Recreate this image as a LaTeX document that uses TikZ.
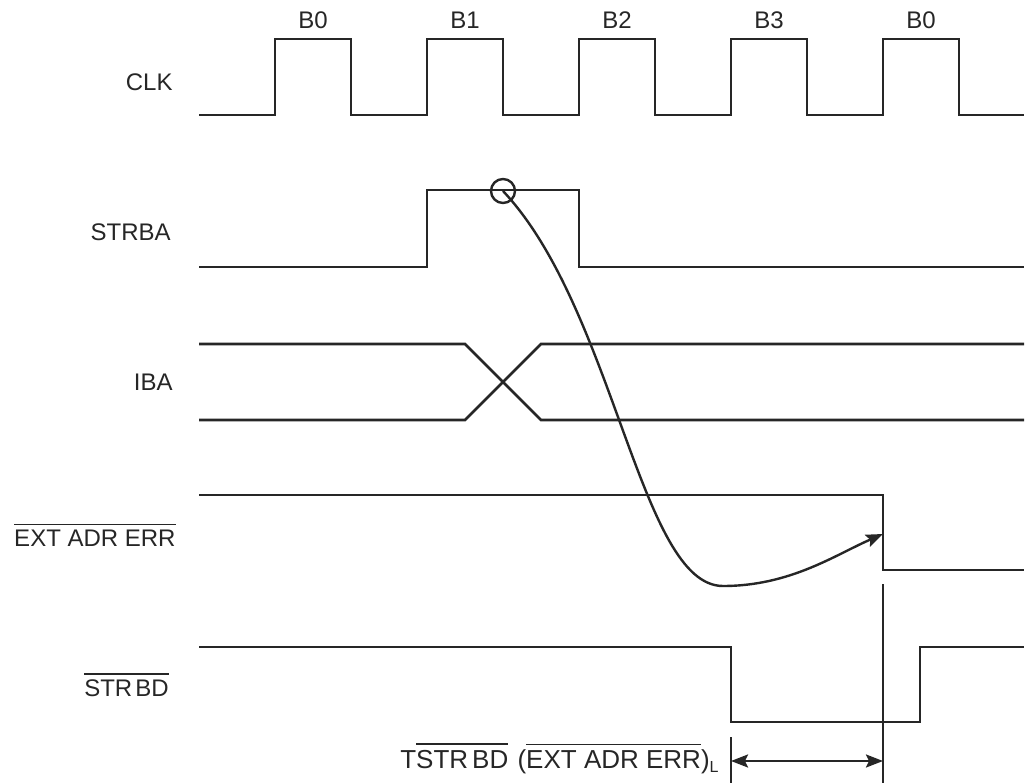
\documentclass[tikz,border=0pt]{standalone}
\usepackage{fontspec}
\setmainfont{Liberation Sans}
\usepackage{tikz}
\usetikzlibrary{arrows.meta}

% bar over a signal name
\newcommand\ovl[1]{\begingroup\setbox0=\hbox{#1}\rlap{\rule[\dimexpr\ht0+5pt\relax]{\wd0}{1.4pt}}\box0\endgroup}

\begin{document}
\begin{tikzpicture}[x=1pt, y=-1pt, thick]
      \tikzstyle{signal} = [draw=black!85, line width=2.6pt, line join=miter]
      \tikzstyle{line} = [draw=black!85, line width=2.4pt, -{Stealth[length=17pt, width=13pt, inset=3pt]}]
      \tikzstyle{name node} = [anchor=east, inner sep=0pt, text=black!85, font=\fontsize{24}{28}\selectfont]
      \tikzstyle{cycle node} = [inner sep=0pt, text=black!85, font=\fontsize{24}{28}\selectfont]
      \useasboundingbox (0,0) rectangle (1026,783);
      %names
      \node[name node] (clk)   at (173,82)  {CLK};
      \node[name node] (strba) at (171,232) {STRBA};
      \node[name node] (iba)   at (173,382) {IBA};
      \node[name node] (ext)   at (176,535) {\ovl{EXT ADR ERR}};
      \node[name node] (strbd) at (169,685) {\ovl{STR\kern3pt BD}};
      \foreach \x/\b in {275/B0, 427/B1, 579/B2, 731/B3, 883/B0}
         \node[cycle node] (cyc\x) at (\x+38,20) {\b};
      %waves
      \draw[signal] (199,115) foreach \x in {275,427,579,731,883} { -- (\x,115) -- (\x,39) -- (\x+76,39) -- (\x+76,115) } -- (1024,115);
      \draw[signal] (199,267) -- (427,267) -- (427,190) -- (579,190) -- (579,267) -- (1024,267);
      \draw[signal] (199,344) -- (465,344) -- (541,420) -- (1024,420);
      \draw[signal] (199,420) -- (465,420) -- (541,344) -- (1024,344);
      \draw[signal] (199,495) -- (883,495) -- (883,570) -- (1024,570);
      \draw[signal] (199,647) -- (731,647) -- (731,722) -- (920,722) -- (920,647) -- (1024,647);
      %markers
      \node[circle, draw=black!85, line width=2.4pt, minimum size=24pt, inner sep=0pt] (probe) at (503,191) {};
      \coordinate (errfall) at (883,534);
      \coordinate (tstart) at (731,761);
      \coordinate (tend)   at (883,761);
      \draw[signal] (883,584) -- (883,783);
      \draw[signal] (731,737) -- (731,783);
      %lines
      \draw[line] (probe.center) .. controls (615,310) and (640,586) .. (723,586)
                  .. controls (790,586) and (835,555) .. (errfall);
      \draw[line, {Stealth[length=17pt, width=13pt, inset=3pt]}-{Stealth[length=17pt, width=13pt, inset=3pt]}] (tstart) -- (tend);
      \node[anchor=base east, inner sep=0pt, text=black!85, font=\fontsize{26}{30}\selectfont] (tlabel) at (719,768)
         {T\ovl{STR\kern4pt BD}\kern2pt\ (\ovl{EXT ADR ERR})\raisebox{-4pt}{\fontsize{16}{18}\selectfont L}};
\end{tikzpicture}
\end{document}
